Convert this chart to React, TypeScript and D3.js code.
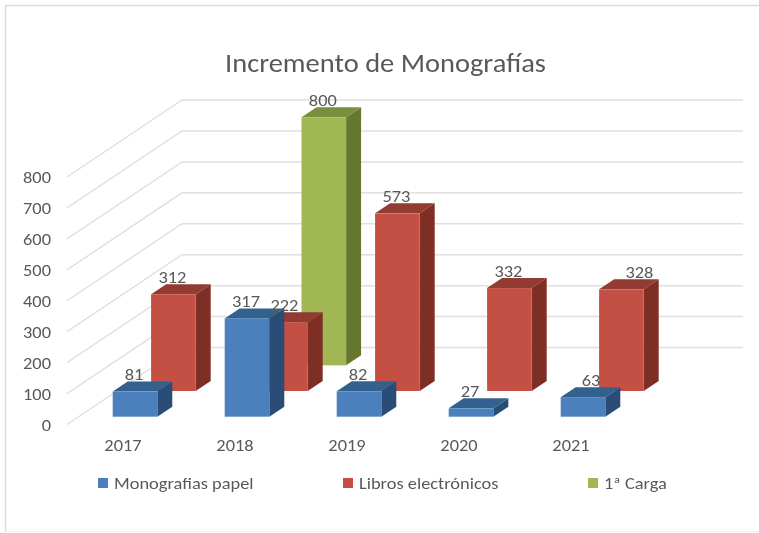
import React from "react";
import * as d3 from "d3";

const categories = ["2017", "2018", "2019", "2020", "2021"];
const yTicks = [0, 100, 200, 300, 400, 500, 600, 700, 800];
const monografiasPapel = [81, 317, 82, 27, 63];
const librosElectronicos = [312, 222, 573, 332, 328];
const primeraCarga = [null, 800, null, null, null];
const seriesNames = ["Monografias papel", "Libros electrónicos", "1ª Carga"];
const seriesValues: (number | null)[][] = [monografiasPapel, librosElectronicos, primeraCarga];
const faceColors = ["#4c80bc", "#c45044", "#a0b752"];
const topColors = ["#33608f", "#923a30", "#7a8f3e"];
const sideColors = ["#2b4e78", "#7e2e24", "#66782f"];

const font = "Carlito, 'Open Sans', 'Noto Sans', sans-serif";
const textColor = "#595959";
const W = 759, H = 533;
const barW = 44.6, depthX = 15, depthY = 10;
const wallX = 115, wallY = 77;
const stretch = 1.115;

const x = d3.scaleLinear().domain([0, 4]).range([112.7, 560.7]);
const zx = d3.scaleLinear().domain([0, 2]).range([0, 76.8]);
const zy = d3.scaleLinear().domain([0, 2]).range([416.7, 365.3]);
const h = d3.scaleLinear().domain([0, 800]).range([0, 248]);
const frontY = d3.scaleLinear().domain([0, 800]).range([424.5, 177]);

const poly = (pts: [number, number][]) => d3.line()(pts) + "Z";

function T({ x, y, size = 16.5, sx = stretch, anchor = "middle", children }: any) {
  return (
    <text transform={`translate(${x},${y}) scale(${sx},1)`} dy="0.35em" textAnchor={anchor}
      fontSize={size} fill={textColor} fontFamily={font}>{children}</text>
  );
}

export default function App() {
  const marks: React.ReactNode[] = [];
  const labels: React.ReactNode[] = [];
  for (const s of [2, 1, 0]) {
    categories.forEach((c, i) => {
      const v = seriesValues[s][i];
      if (v == null) return;
      const x0 = x(i) + zx(s), x1 = x0 + barW;
      const b = zy(s), t = b - h(v);
      marks.push(
        <g key={`${s}-${i}`}>
          <path d={poly([[x1, t], [x1 + depthX, t - depthY], [x1 + depthX, b - depthY], [x1, b]])} fill={sideColors[s]} />
          <path d={poly([[x0, t], [x0 + depthX, t - depthY], [x1 + depthX, t - depthY], [x1, t]])} fill={topColors[s]} />
          <rect x={x0} y={t} width={barW} height={b - t} fill={faceColors[s]} />
        </g>
      );
      const nudge = i === 4 ? (s === 0 ? 8 : 18) : -1;
      labels.push(<T key={`l${s}-${i}`} x={x0 + barW / 2 + nudge} y={t - 17}>{v}</T>);
    });
  }
  return (
    <svg width={W} height={H} style={{ position: "absolute", left: 0, top: 0, background: "#fff" }}>
      <defs>
        <filter id="soft" x="-5%" y="-5%" width="110%" height="110%">
          <feGaussianBlur stdDeviation="0.55" />
        </filter>
      </defs>
      <g filter="url(#soft)">
        <path d="M5.5,531.5V5.5H759" fill="none" stroke="#dcdcdc" strokeWidth={1.5} />
        <path d="M5.5,531.5H759" fill="none" stroke="#efefef" strokeWidth={1} />
        {yTicks.map((t) => {
          const y0 = frontY(t);
          return (
            <g key={t}>
              <path d={`M67,${y0}L${67 + wallX},${y0 - wallY}H743`} fill="none" stroke="#e0e0e0" strokeWidth={1.5} />
              <T x={51} y={y0 + 0.5} anchor="end">{t}</T>
            </g>
          );
        })}
        {marks}
        {labels}
        {categories.map((c, i) => (
          <T key={c} x={123 + 112 * i} y={445}>{c}</T>
        ))}
        <T x={385.5} y={63} size={26} sx={1.095}>Incremento de Monografías</T>
        {seriesNames.map((n, s) => {
          const lx = [98, 343, 588][s];
          return (
            <g key={n}>
              <rect x={lx} y={478} width={10} height={10} fill={faceColors[s]} />
              <T x={lx + 16} y={483} anchor="start">{n}</T>
            </g>
          );
        })}
      </g>
    </svg>
  );
}
